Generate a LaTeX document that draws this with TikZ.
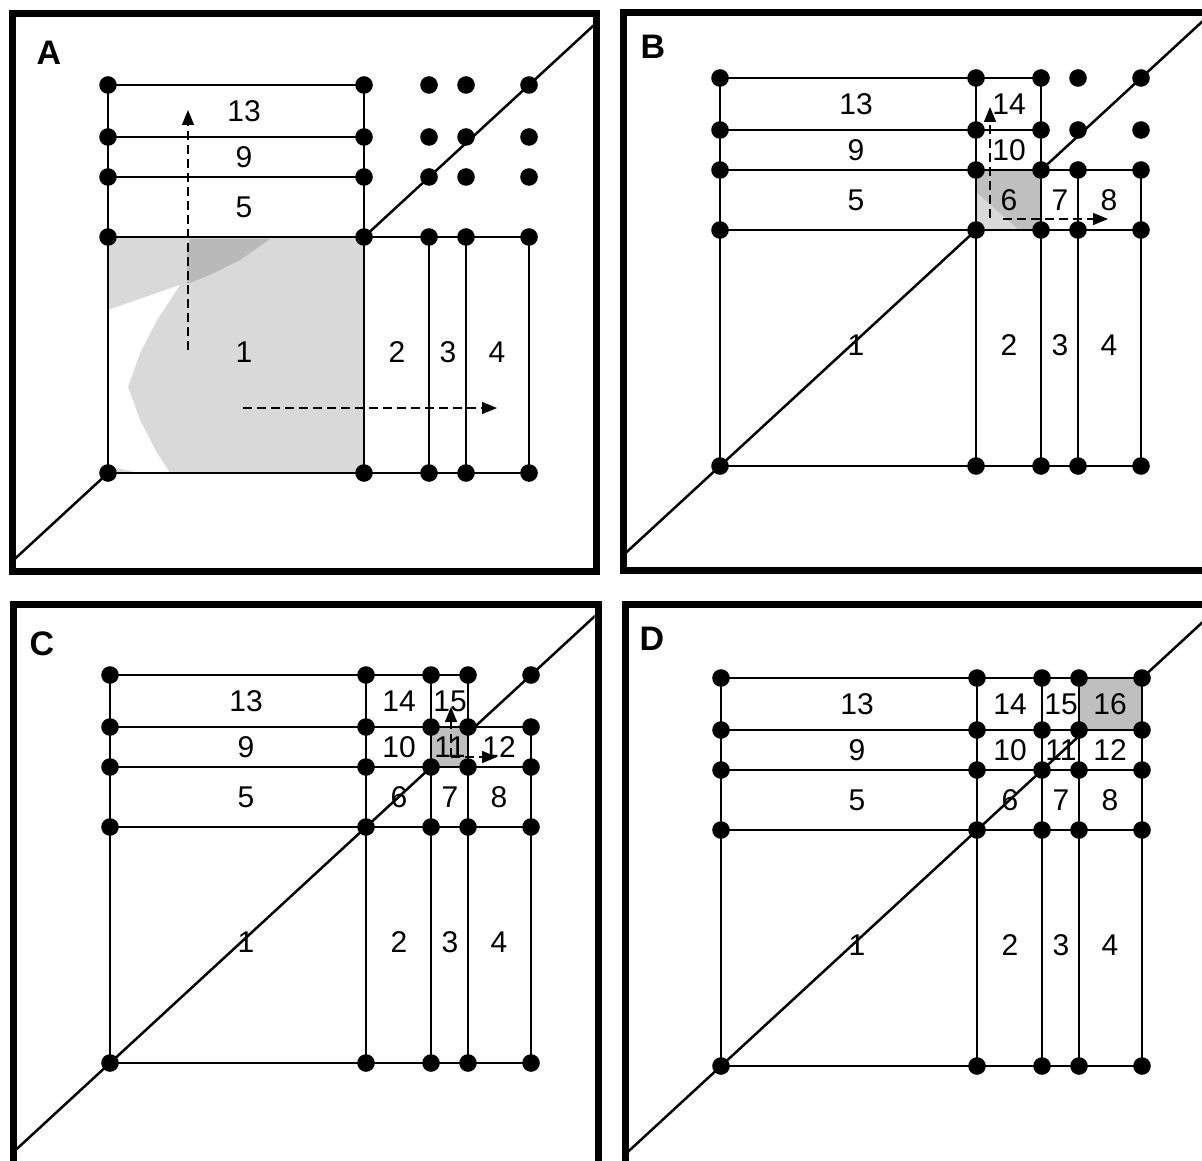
\documentclass[tikz,border=0pt]{standalone}
\usepackage{fontspec}
\setmainfont{Liberation Sans}
\usetikzlibrary{arrows.meta,calc}
\tikzset{
  frame/.style={line width=3.5pt},
  gridline/.style={line width=0.7pt},
  diag/.style={line width=1.25pt},
  dot/.style={circle, fill=black, inner sep=0pt, minimum size=8.8pt},
  lbl/.style={font=\fontsize{15}{15}\selectfont, inner sep=0pt},
  plabel/.style={font=\fontsize{17}{17}\selectfont\bfseries, inner sep=0pt},
  flow/.style={dash pattern=on 4.5pt off 2.5pt, line width=0.7pt, -{Triangle[length=7.5pt,width=6pt]}},
  hilite/.style={fill=gray!50},
}
\def\lxarr{{136,289,340,389}}
\def\lyarr{{121,266,316,362}}
% #1 name, #2 ox, #3 oy, #4 k, #5 frame x, #6 frame y, #7 frame height, #8 labels, #9 extra
\newcommand\drawpanel[9]{%
  \pgfmathtruncatemacro\km{#4-1}%
  \fill[white] (#5,#6) rectangle ++(584.5,#7);
  \draw[frame] (#5,#6) rectangle ++(584.5,#7);
  \foreach \i/\xo in {0/0,1/256,2/321,3/358,4/421}{%
    \foreach \j/\yo in {0/0,1/236,2/296,3/336,4/388}{%
      \coordinate (#1-\i-\j) at (#2+\xo,#3-\yo);}}
  \begin{scope}
    \clip (#5+3.5,#6+3.5) rectangle (#5+581,#6+#7-3.5);
    \draw[diag] ($(#1-0-0)!-0.4!(#1-4-4)$) -- ($(#1-0-0)!1.4!(#1-4-4)$);
  \end{scope}
  \fill[hilite] (#1-\km-\km) rectangle (#1-#4-#4);
  #9
  \foreach \j in {0,...,4}{%
    \pgfmathtruncatemacro\e{\j<=#4 ? 4 : #4}%
    \draw[gridline] (#1-0-\j) -- (#1-\e-\j);
    \draw[gridline] (#1-\j-0) -- (#1-\j-\e);}
  \foreach \i/\j/\n in {#8}{%
    \pgfmathsetmacro\lx{#2+\lxarr[\i]}%
    \pgfmathsetmacro\ly{#3-\lyarr[\j]}%
    \node[lbl] (#1n\n) at (\lx,\ly) {\n};}
  \foreach \i in {0,...,4}{\foreach \j in {0,...,4}{%
    \node[dot] (#1d-\i-\j) at (#1-\i-\j) {};}}
}
\begin{document}
\begin{tikzpicture}[x=0.5pt,y=-0.5pt]
\useasboundingbox (0,0) rectangle (1202,1160);
\clip (0,0) rectangle (1202,1160);
\fill[white] (0,0) rectangle (1202,1160);

% Panel A
\drawpanel{A}{108}{473}{1}{12}{14}{557}
  {0/0/1,1/0/2,2/0/3,3/0/4,0/1/5,0/2/9,0/3/13}
  {\fill[gray!30] (A-0-0) rectangle (A-1-1);
   \fill[white] (108,310) -- (180,285) -- (157,320) -- (140,353) -- (128,387) -- (140,420) -- (157,453) -- (170,473) -- (140,473) -- (108,466) -- cycle;
   \fill[gray!55] (190,239) -- (270,239) -- (240,260) -- (210,275) -- (187,284) -- (187,250) -- cycle;
   \coordinate (A-vs) at (188,350); \coordinate (A-ve) at (188,110);
   \coordinate (A-hs) at (243,408); \coordinate (A-he) at (497,408);
   \draw[flow] (A-vs) -- (A-ve);
   \draw[flow] (A-hs) -- (A-he);
   \node[plabel] (A-lab) at (49,53) {A};}

% Panel B
\drawpanel{B}{720}{466}{2}{623}{13}{557}
  {0/0/1,1/0/2,2/0/3,3/0/4,0/1/5,1/1/6,2/1/7,3/1/8,0/2/9,1/2/10,0/3/13,1/3/14}
  {\fill[gray!30] (976,192) -- (976,231) -- (1020,231) -- cycle;
   \coordinate (B-vs) at (990,218); \coordinate (B-ve) at (990,107);
   \coordinate (B-hs) at (1003,219); \coordinate (B-he) at (1108,219);
   \draw[flow] (B-vs) -- (B-ve);
   \draw[flow] (B-hs) -- (B-he);
   \node[plabel] (B-lab) at (653,47) {B};}

% Panel C
\drawpanel{C}{110}{1063}{3}{13.5}{604}{565}
  {0/0/1,1/0/2,2/0/3,3/0/4,0/1/5,1/1/6,2/1/7,3/1/8,0/2/9,1/2/10,2/2/11,3/2/12,0/3/13,1/3/14,2/3/15}
  {\coordinate (C-vs) at (451,757); \coordinate (C-ve) at (451,707);
   \coordinate (C-hs) at (451,757); \coordinate (C-he) at (497,757);
   \draw[flow] (C-vs) -- (C-ve);
   \draw[flow] (C-hs) -- (C-he);
   \node[plabel] (C-lab) at (42,644) {C};}

% Panel D
\drawpanel{D}{721}{1066}{4}{625}{604}{565}
  {0/0/1,1/0/2,2/0/3,3/0/4,0/1/5,1/1/6,2/1/7,3/1/8,0/2/9,1/2/10,2/2/11,3/2/12,0/3/13,1/3/14,2/3/15,3/3/16}
  {\node[plabel] (D-lab) at (652,639) {D};}
\end{tikzpicture}
\end{document}
